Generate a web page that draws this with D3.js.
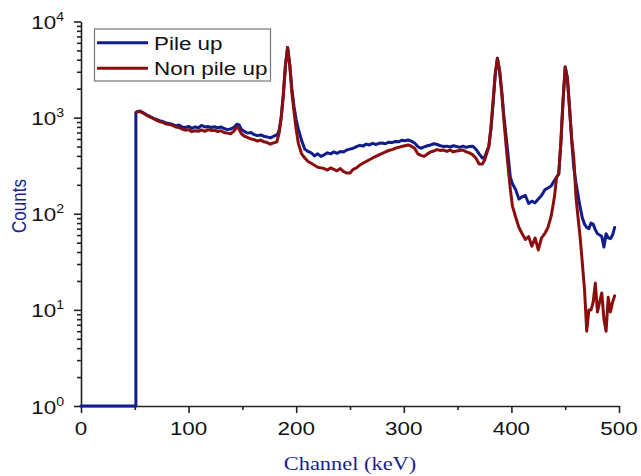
<!DOCTYPE html>
<html><head><meta charset="utf-8">
<script src="https://cdn.jsdelivr.net/npm/d3@7"></script>
<style>html,body{margin:0;padding:0;background:#fff;} svg{display:block;}</style>
</head><body>
<script>
// ---- data ----
const channels = [0, 51, 51,
 52,55,58,61,64,67,70,73,76,79,
 82,85,88,91,94,97,100,103,106,109,
 112,115,118,121,124,127,130,133,136,139,
 142,145,147,149,152,155,158,161,164,167,
 170,173,176,179,182,184,186,188,190,192,
 194,196,198,200,202,205,208,211,214,217,
 220,223,226,229,232,235,238,241,244,247,
 250,253,256,259,262,265,268,271,274,277,
 280,283,286,289,292,295,298,301,304,307,
 310,313,316,319,322,325,328,331,334,337,
 340,343,346,349,352,355,358,361,364,367,
 370,373,375,377,379,381,383,385,387,389,
 391,393,395,397,399,401,404,407,410,413,
 416,419,422,425,428,431,434,437,440,442,
 444,446,448,450,452,454,456,458,460,462,
 464,466,468,470,472,474,476,478,480,482,
 484,486,488,490,492,494,496];

const pileUp = [1, 1, 1130,
 1150,1170,1120,1070,1030,990,960,930,910,880,
 870,850,820,840,800,790,810,775,800,780,
 830,800,810,790,805,780,800,770,750,760,
 790,855,840,760,715,690,700,665,650,660,
 640,630,615,640,660,720,1000,1700,3500,5370,
 3600,2000,1300,950,760,580,470,445,430,400,
 420,395,410,430,420,440,425,445,440,460,
 470,480,500,515,505,530,520,540,525,540,
 545,535,555,550,565,560,580,575,585,570,
 545,500,480,495,510,520,535,525,510,500,
 505,495,510,500,490,505,490,500,505,470,
 420,380,385,440,500,750,1400,2800,4140,3100,
 1900,1050,650,400,240,205,178,142,150,155,
 128,135,130,142,155,177,185,195,222,240,
 260,550,1500,3360,2600,1300,590,300,210,155,
 115,90,78,72,70,80,78,68,62,60,
 58,45,62,56,55,60,72];

const nonPileUp = [null, null, null,
 1140,1160,1110,1060,1020,980,940,910,890,860,
 850,830,800,790,760,740,750,715,730,720,
 745,720,750,735,740,715,730,700,690,680,
 720,800,760,680,640,620,600,590,570,585,
 560,550,530,545,560,680,980,1700,3500,5370,
 3500,1800,1150,750,540,420,380,350,335,320,
 305,300,295,285,300,290,280,295,275,265,
 265,290,300,320,335,350,365,380,395,410,
 425,440,455,465,480,490,500,510,520,505,
 480,420,405,395,420,440,450,465,455,460,
 445,460,440,450,455,460,440,430,410,380,
 330,330,360,420,500,800,1500,2900,4140,3100,
 1800,950,520,300,180,120,92,72,62,54,
 58,46,56,42,56,62,72,95,150,240,
 260,560,1500,3360,2600,1250,600,380,150,90,
 55,30,16,6,10,10,12,19,9.5,12,
 15,8,6,13.5,9.5,12,14];

const seriesNames = ["Pile up", "Non pile up"];
const xTicks = [0, 100, 200, 300, 400, 500];
const xTickLabels = ["0", "100", "200", "300", "400", "500"];
const xMinorTicks = [50, 150, 250, 350, 450];
const yTicks = [1, 10, 100, 1000, 10000];
const yTickExponents = ["0", "1", "2", "3", "4"];
const xTitle = "Channel (keV)";
const yTitle = "Counts";

// ---- layout ----
const W = 641, H = 476, S = 1.18;
const BLUE = "#0f1e8c", RED = "#8b0e0e", TITLE = "#1a1f8f";
const FONT = "'Liberation Sans', Arial, Helvetica, sans-serif";
const svg = d3.select("body").append("svg").attr("width", W).attr("height", H);
svg.append("rect").attr("width", W).attr("height", H).attr("fill", "#fff");

const x = d3.scaleLinear().domain([0, 500]).range([81, 619]);
const y = d3.scaleLog().domain([1, 10000]).range([406, 21.5]);

function styleAxis(g) {
  g.selectAll("path,line").attr("stroke", "#222").attr("stroke-width", 1.6);
  g.selectAll("text").remove();
}

// x axis
const gx = svg.append("g").attr("transform", `translate(0,${y(1)})`)
  .call(d3.axisBottom(x).tickValues(xTicks).tickSize(7).tickSizeOuter(0).tickFormat(""));
gx.append("g").call(d3.axisBottom(x).tickValues(xMinorTicks).tickSize(4).tickFormat(""))
  .select(".domain").remove();
styleAxis(gx);
xTicks.forEach((v, i) => {
  svg.append("text").attr("transform", `translate(${x(v)},435) scale(${S},1)`)
    .attr("text-anchor", "middle").attr("font-family", FONT).attr("font-size", 19)
    .attr("fill", "#111").text(xTickLabels[i]);
});

// y axis
const yMinor = y.ticks().filter(v => !yTicks.includes(v));
const gy = svg.append("g").attr("transform", `translate(${x(0)},0)`)
  .call(d3.axisLeft(y).tickValues(yTicks).tickSize(7).tickSizeOuter(0).tickFormat(""));
gy.append("g").call(d3.axisLeft(y).tickValues(yMinor).tickSize(4).tickFormat(""))
  .select(".domain").remove();
styleAxis(gy);
yTicks.forEach((v, i) => {
  const t = svg.append("text").attr("transform", `translate(${x(0) - 17},${y(v) + 7.5}) scale(${S},1)`)
    .attr("text-anchor", "end").attr("font-family", FONT).attr("font-size", 19).attr("fill", "#111");
  t.append("tspan").text("10");
  t.append("tspan").attr("dy", -8).attr("font-size", 12).text(yTickExponents[i]);
});

// titles
svg.append("text").attr("transform", `translate(26,206) scale(${S},1) rotate(-90)`)
  .attr("text-anchor", "middle").attr("font-family", FONT).attr("font-size", 17)
  .attr("fill", TITLE).text(yTitle);
svg.append("text").attr("transform", `translate(350,470) scale(${S},1)`)
  .attr("text-anchor", "middle").attr("font-family", "'Liberation Serif', 'Times New Roman', serif")
  .attr("font-size", 19).attr("fill", TITLE).text(xTitle);

// curves
const line = d3.line()
  .defined(d => d[1] != null)
  .x(d => x(d[0])).y(d => y(d[1]));
const seriesData = [pileUp, nonPileUp];
const colors = [BLUE, RED];
seriesData.forEach((vals, k) => {
  const pts = channels.map((c, i) => [c, vals[i]]);
  svg.append("path").datum(pts).attr("d", line)
    .attr("fill", "none").attr("stroke", colors[k]).attr("stroke-width", 3)
    .attr("stroke-linejoin", "round").attr("stroke-linecap", "round");
});

// legend
const lg = svg.append("g");
lg.append("rect").attr("x", 94.5).attr("y", 29).attr("width", 176).attr("height", 52)
  .attr("fill", "#fff").attr("stroke", "#777").attr("stroke-width", 1.2);
seriesNames.forEach((name, k) => {
  const ly = 42.7 + k * 25.6;
  lg.append("line").attr("x1", 97).attr("x2", 148).attr("y1", ly).attr("y2", ly)
    .attr("stroke", colors[k]).attr("stroke-width", 3);
  lg.append("text").attr("transform", `translate(154,${ly + 7}) scale(${S},1)`)
    .attr("font-family", FONT).attr("font-size", 19).attr("fill", "#111").text(name);
});
</script>
</body></html>
